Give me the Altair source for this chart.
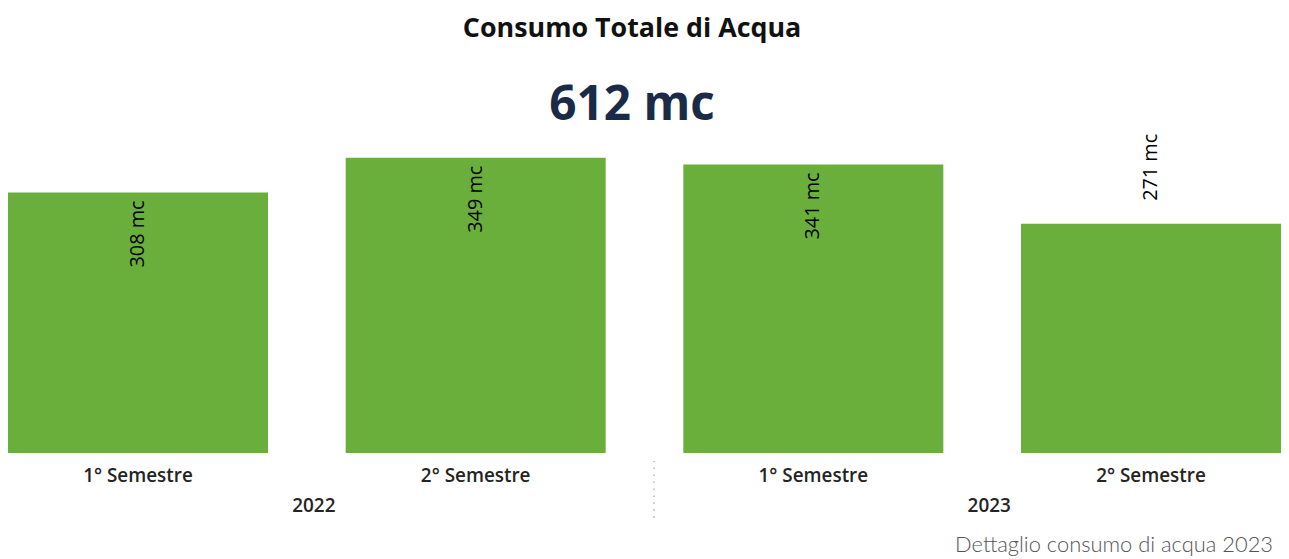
import altair as alt
import pandas as pd

years = ["2022", "2022", "2023", "2023"]
semesters = ["1° Semestre", "2° Semestre", "1° Semestre", "2° Semestre"]
values = [308, 349, 341, 271]
total_label = "612 mc"
title_text = "Consumo Totale di Acqua"
footer_text = "Dettaglio consumo di acqua 2023"

df = pd.DataFrame({"year": years, "semester": semesters, "value": values})
df["key"] = df["year"] + "|" + df["semester"]
df["label"] = df["value"].astype(str) + " mc"

W = 1281
H = 446
FONT = "Open Sans"
GREEN = "#6aaf3c"
PI = 0.23

xscale = alt.Scale(paddingInner=PI, paddingOuter=0)
xenc = alt.X(
    "key:N",
    sort=list(df["key"]),
    scale=xscale,
    axis=alt.Axis(
        title=None,
        labelExpr="split(datum.value, '|')[1]",
        domain=False,
        ticks=False,
        grid=False,
        labelAngle=0,
        labelFont=FONT,
        labelFontSize=19,
        labelFontWeight=600,
        labelColor="#252423",
        labelPadding=14,
    ),
)
yenc = alt.Y("value:Q", scale=alt.Scale(domain=[0, 524]), axis=None)

base = alt.Chart(df)

bars = base.mark_bar(color=GREEN).encode(x=xenc, y=yenc)

inside = base.transform_filter("datum.value >= 300").mark_text(
    angle=270, align="right", baseline="middle", dx=-8,
    font=FONT, fontSize=20, fontWeight="normal", color="#000000",
).encode(x=xenc, y=yenc, text="label:N")

outside = base.transform_filter("datum.value < 300").mark_text(
    angle=270, align="left", baseline="middle", dx=23,
    font=FONT, fontSize=20, fontWeight="normal", color="#000000",
).encode(x=xenc, y=yenc, text="label:N")

year_text = base.transform_filter("datum.semester == '2° Semestre'").mark_text(
    font=FONT, fontSize=19, fontWeight=600, color="#252423",
    baseline="middle", dx=-32,
).encode(
    x=alt.X("key:N", sort=list(df["key"]), bandPosition=0, scale=xscale),
    y=alt.value(499),
    text="year:N",
)

sep = base.mark_rule(color="#c8c8c8", strokeDash=[1, 6], strokeWidth=1.5).encode(
    x=alt.value(650), y=alt.value(454), y2=alt.value(516)
)

title = alt.Chart(pd.DataFrame({"t": [title_text]})).mark_text(
    font=FONT, fontSize=27, fontWeight="bold", color="#111111", baseline="middle"
).encode(x=alt.value(628), y=alt.value(19), text="t:N")

total = alt.Chart(pd.DataFrame({"t": [total_label]})).mark_text(
    font=FONT, fontSize=48, fontWeight="bold", color="#1b2a46", baseline="middle"
).encode(x=alt.value(628), y=alt.value(97), text="t:N")

footer = alt.Chart(pd.DataFrame({"t": [footer_text]})).mark_text(
    font="Lato", fontSize=22, fontWeight=300, color="#555555", align="right",
    baseline="alphabetic",
).encode(x=alt.value(1273), y=alt.value(546), text="t:N")

chart = alt.layer(bars, inside, outside, year_text, sep, title, total, footer).properties(
    width=W, height=H,
    background="white",
    autosize=alt.AutoSizeParams(type="none"),
    padding={"left": 0, "top": 0, "right": 0, "bottom": 104},
).configure_view(strokeWidth=0, stroke="transparent")

chart.save("out.html", embed_options={"renderer": "svg", "actions": False})
